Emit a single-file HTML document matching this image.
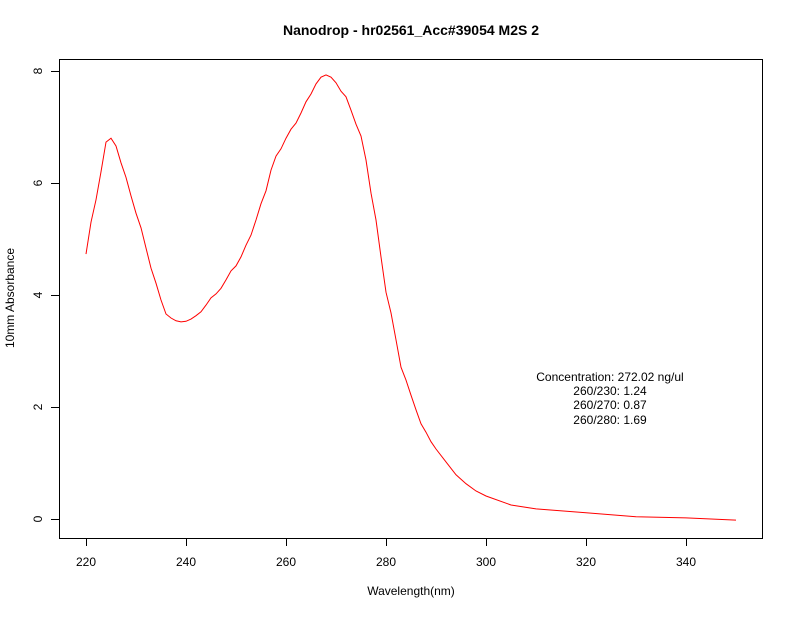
<!DOCTYPE html>
<html><head><meta charset="utf-8"><style>
body{margin:0;background:#fff}
svg text{font-family:"Liberation Sans",sans-serif;font-size:12px;fill:#000}
</style></head><body>
<svg id="chart" width="792" height="612" viewBox="0 0 792 612" xmlns="http://www.w3.org/2000/svg">
<rect width="792" height="612" fill="#fff"/>
<text x="411" y="35" text-anchor="middle" style="font-weight:bold;font-size:14px">Nanodrop - hr02561_Acc#39054 M2S 2</text>
<rect x="59.5" y="59.5" width="703" height="479" fill="none" stroke="#000" stroke-width="1"/>
<g id="xaxis"></g>
<g id="yaxis"></g>
<text x="411" y="595" text-anchor="middle">Wavelength(nm)</text>
<text transform="translate(14,298) rotate(-90)" text-anchor="middle">10mm Absorbance</text>
<path id="curve" fill="none" stroke="#ff0000" stroke-width="1"/>
<g text-anchor="middle">
<text x="610" y="381">Concentration: 272.02 ng/ul</text>
<text x="610" y="395">260/230: 1.24</text>
<text x="610" y="409">260/270: 0.87</text>
<text x="610" y="424">260/280: 1.69</text>
</g>
</svg>
<script>
const wavelengths=[220,221,222,223,224,225,226,227,228,229,230,231,232,233,234,235,236,237,238,239,240,241,242,243,244,245,246,247,248,249,250,251,252,253,254,255,256,257,258,259,260,261,262,263,264,265,266,267,268,269,270,271,272,273,274,275,276,277,278,279,280,281,282,283,284,285,286,287,288,289,290,292,294,296,298,300,305,310,320,330,340,350];
const absorbance=[4.73,5.3,5.7,6.2,6.73,6.8,6.66,6.36,6.1,5.77,5.46,5.2,4.84,4.48,4.21,3.91,3.66,3.59,3.54,3.52,3.53,3.57,3.63,3.7,3.82,3.95,4.02,4.12,4.27,4.43,4.52,4.68,4.89,5.07,5.34,5.63,5.86,6.23,6.48,6.61,6.8,6.96,7.07,7.25,7.45,7.59,7.77,7.89,7.93,7.89,7.79,7.64,7.54,7.3,7.05,6.84,6.41,5.82,5.34,4.68,4.05,3.68,3.2,2.71,2.48,2.21,1.95,1.7,1.55,1.38,1.25,1.02,0.79,0.63,0.5,0.41,0.25,0.18,0.11,0.04,0.02,-0.02];
const xTicks=[220,240,260,280,300,320,340];
const yTicks=[0,2,4,6,8];
const NS="http://www.w3.org/2000/svg";
function xs(v){return 86+(v-220)*5;}
function ys(v){return 519-v*56;}
let d="";
for(let i=0;i<wavelengths.length;i++){d+=(i?"L":"M")+xs(wavelengths[i]).toFixed(1)+","+ys(absorbance[i]).toFixed(1);}
document.getElementById("curve").setAttribute("d",d);
const xa=document.getElementById("xaxis"),ya=document.getElementById("yaxis");
xTicks.forEach(t=>{
 const l=document.createElementNS(NS,"line");
 
 
 l.setAttribute("x1",xs(t)+0.5);l.setAttribute("x2",xs(t)+0.5);l.setAttribute("y1",538);l.setAttribute("y2",546);l.setAttribute("stroke","#000");
 xa.appendChild(l);
 const tx=document.createElementNS(NS,"text");
 
 
 tx.setAttribute("x",xs(t));tx.setAttribute("y",566);tx.setAttribute("text-anchor","middle");tx.textContent=t;
 xa.appendChild(tx);
});
yTicks.forEach(t=>{
 const l=document.createElementNS(NS,"line");
 
 
 l.setAttribute("x1",51);l.setAttribute("x2",59);l.setAttribute("y1",ys(t)+0.5);l.setAttribute("y2",ys(t)+0.5);l.setAttribute("stroke","#000");
 ya.appendChild(l);
 const tx=document.createElementNS(NS,"text");
 
 
 tx.setAttribute("transform","translate(42,"+ys(t)+") rotate(-90)");tx.setAttribute("text-anchor","middle");tx.textContent=t;
 ya.appendChild(tx);
});
</script>
</body></html>
